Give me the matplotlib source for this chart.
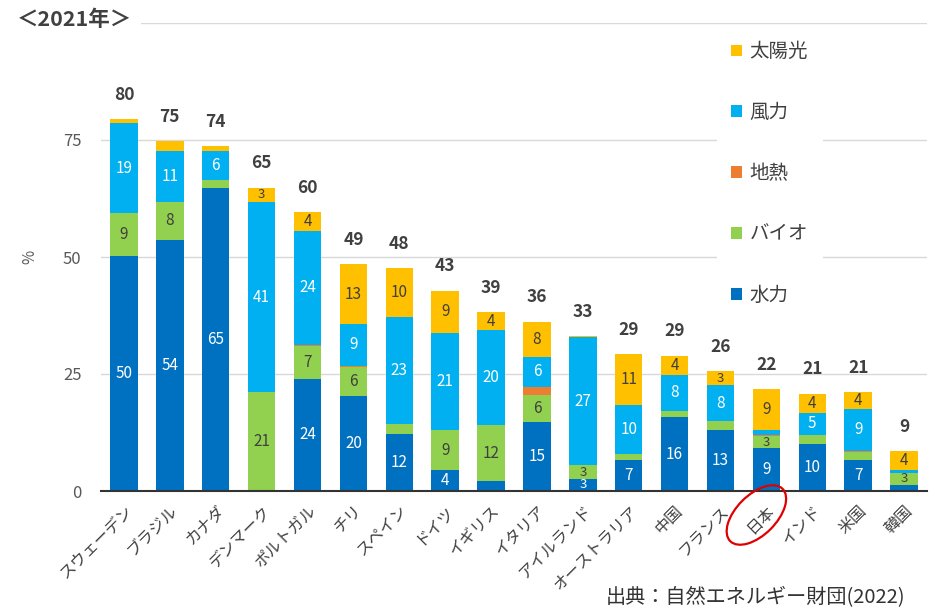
import matplotlib
matplotlib.use("Agg")
import matplotlib.pyplot as plt
from matplotlib.patches import Ellipse, Patch
from matplotlib.transforms import IdentityTransform
import numpy as np

plt.rcParams['font.family'] = ['Noto Sans CJK JP', 'DejaVu Sans']

countries = ['スウェーデン', 'ブラジル', 'カナダ', 'デンマーク', 'ポルトガル', 'チリ', 'スペイン',
             'ドイツ', 'イギリス', 'イタリア', 'アイルランド', 'オーストラリア', '中国', 'フランス',
             '日本', 'インド', '米国', '韓国']
hydro = [50.2, 53.6, 64.8, 0.0, 24.0, 20.2, 12.1, 4.4, 2.1, 14.7, 2.6, 6.6, 15.8, 13.0, 9.1, 10.0, 6.6, 1.3]
bio = [9.2, 8.2, 1.7, 21.1, 7.0, 6.3, 2.2, 8.7, 12.0, 5.8, 2.9, 1.4, 1.3, 2.0, 2.6, 2.0, 1.7, 2.6]
geo = [0.0, 0.0, 0.0, 0.0, 0.3, 0.3, 0.0, 0.0, 0.0, 1.8, 0.0, 0.0, 0.0, 0.0, 0.3, 0.0, 0.3, 0.0]
wind = [19.2, 10.8, 6.2, 40.6, 24.3, 8.8, 22.9, 20.6, 20.3, 6.4, 27.3, 10.3, 7.7, 7.6, 1.0, 4.7, 9.0, 0.6]
solar = [0.9, 2.2, 1.0, 3.1, 4.0, 12.8, 10.4, 9.1, 3.8, 7.5, 0.3, 11.0, 4.1, 3.0, 8.8, 4.1, 3.6, 4.0]
totals = [80, 75, 74, 65, 60, 49, 48, 43, 39, 36, 33, 29, 29, 26, 22, 21, 21, 9]

series = [
    ('水力', hydro, '#0070C0', 'white'),
    ('バイオ', bio, '#92D050', '#404040'),
    ('地熱', geo, '#ED7D31', '#404040'),
    ('風力', wind, '#00B0F0', 'white'),
    ('太陽光', solar, '#FFC000', '#404040'),
]

fig = plt.figure(figsize=(9.41, 6.09), dpi=100)
ax = fig.add_axes([101/941, 118/609, 826/941, 468/609])

x = np.arange(len(countries))
bottom = np.zeros(len(countries))
handles = []
for name, vals, color, tcolor in series:
    vals = np.array(vals)
    ax.bar(x, vals, width=0.6, bottom=bottom, color=color, zorder=3)
    for xi, b, v in zip(x, bottom, vals):
        if round(v) >= 3:
            fs = 11 if v >= 3.5 else 9.5
            ax.text(xi, b + v / 2, str(int(round(v))), ha='center', va='center',
                    fontsize=fs, color=tcolor, zorder=4)
    bottom = bottom + vals
    handles.append(Patch(facecolor=color, label=name))

for xi, top, t in zip(x, bottom, totals):
    ax.annotate(str(t), (xi, top), xytext=(0, 11), textcoords='offset points',
                ha='center', va='bottom', fontsize=12.5, fontweight='bold', color='#404040')

ax.set_xlim(-0.5, len(countries) - 0.5)
ax.set_ylim(0, 100)
ax.set_yticks([0, 25, 50, 75, 100], ['0', '25', '50', '75', ''])
ax.yaxis.grid(True, color='#D9D9D9', lw=1, zorder=0)
ax.set_axisbelow(True)
for s in ['left', 'right', 'top']:
    ax.spines[s].set_visible(False)
ax.spines['bottom'].set_color('#333333')
ax.spines['bottom'].set_linewidth(1.5)
ax.spines['bottom'].set_zorder(5)
ax.tick_params(axis='y', length=0, pad=14, labelsize=12, labelcolor='#595959')
ax.set_xticks(x, countries, rotation=45, ha='right', rotation_mode='anchor')
ax.tick_params(axis='x', length=0, pad=8, labelsize=11.5, labelcolor='#404040')
ax.set_ylabel('%', fontsize=11, color='#595959', labelpad=18)

leg = ax.legend(handles=handles[::-1], loc='upper left', bbox_to_anchor=(707/941, 1 - 17/609),
                bbox_transform=fig.transFigure, frameon=True, facecolor='white', edgecolor='none',
                framealpha=1, fontsize=14, labelspacing=2.05, handlelength=0.55, handleheight=0.55,
                handletextpad=0.4, borderpad=0.75, labelcolor='#404040')
leg.set_zorder(6)

fig.text(17/941, 1 - 20/609, '＜2021年＞', fontsize=15.5, fontweight='bold', color='#404040',
         ha='left', va='center',
         bbox=dict(facecolor='white', edgecolor='none', pad=6))

fig.text(905/941, 1 - 598/609, '出典：自然エネルギー財団(2022)', fontsize=14.5, color='#333333',
         ha='right', va='center')

# red ellipse around 日本 label
jx = countries.index('日本')
cx, cy = ax.transData.transform((jx, 0))
ell = Ellipse((cx - 10, cy - 24), 74, 40, angle=45, fill=False, edgecolor='#E00000',
              lw=1.6, transform=IdentityTransform())
fig.add_artist(ell)

fig.savefig('out.png', dpi=100)
